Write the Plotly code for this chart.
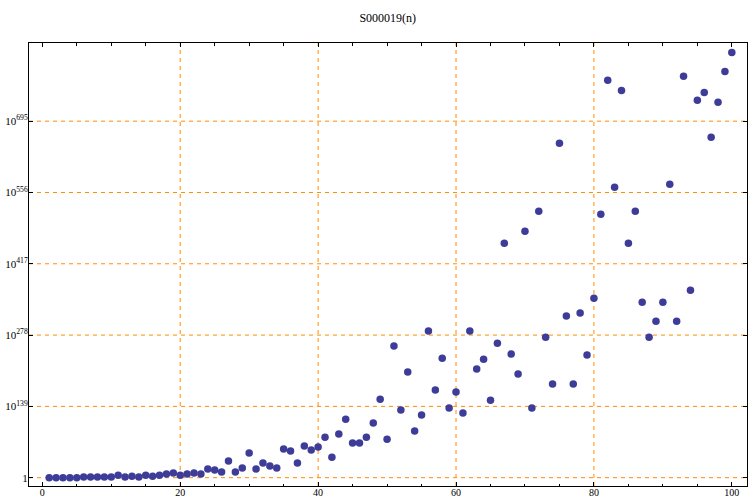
import plotly.graph_objects as go

# n values and log10 of S000019(n)
n_values = list(range(1, 101))
log10_values = [
    0, 0, 0, 0, 0, 1.3, 1.3, 1.3, 1.3, 1.3,
    5, 1.3, 3, 1.3, 5, 3, 5, 7, 9, 5,
    7, 9, 7, 17, 15, 11, 32.5, 11, 19, 48,
    17, 28.6, 23, 19, 56, 52, 28.6, 62, 54, 60,
    79, 40, 85, 114, 67.6, 67.6, 79, 106.6, 153, 75,
    256.5, 132, 206, 91, 122, 286, 171, 233, 136, 167,
    126, 286, 212, 231, 151, 262, 457, 241, 202, 480.6,
    136, 519.5, 274, 182.5, 652, 315, 182.5, 321, 239, 350,
    513.7, 774.7, 566, 755, 457, 519.5, 342, 274, 305, 342,
    572, 305, 782.5, 365.6, 735.8, 751, 663.7, 731.9, 792, 829,
]

x_tick_vals = [0, 20, 40, 60, 80, 100]
x_grid_vals = [20, 40, 60, 80]
y_tick_vals = [0, 139, 278, 417, 556, 695]
y_tick_text = ["1", "10<sup>139</sup>", "10<sup>278</sup>", "10<sup>417</sup>",
               "10<sup>556</sup>", "10<sup>695</sup>"]

grid_color = "rgb(255,140,0)"
font_family = "Liberation Serif"

fig = go.Figure()
fig.add_trace(go.Scatter(
    x=n_values, y=log10_values, mode="markers",
    marker=dict(color="#3d3d99", size=7.5, line=dict(width=0)),
    hoverinfo="x+y",
))

shapes = []
for gx in x_grid_vals:
    shapes.append(dict(type="line", xref="x", yref="paper", x0=gx, x1=gx, y0=0, y1=1,
                       line=dict(color=grid_color, width=1, dash="4px,4px"), layer="below"))
for gy in y_tick_vals:
    shapes.append(dict(type="line", xref="paper", yref="y", x0=0, x1=1, y0=gy, y1=gy,
                       line=dict(color=grid_color, width=1, dash="4px,4px"), layer="below"))

fig.update_layout(
    width=750, height=501,
    margin=dict(l=29, r=3, t=43, b=15),
    paper_bgcolor="white", plot_bgcolor="white",
    showlegend=False,
    font=dict(family=font_family, size=11, color="black"),
    title=dict(text="S000019(n)", x=0.517, xanchor="center", y=0.965, yanchor="middle",
               font=dict(family=font_family, size=12, color="black")),
    shapes=shapes,
    xaxis=dict(
        range=[-1.93, 102.2], tickvals=x_tick_vals, ticks="inside", ticklen=4,
        tickcolor="black", showgrid=False, zeroline=False, automargin=False,
        showline=True, linecolor="black", linewidth=1, mirror="allticks",
        minor=dict(dtick=5, tick0=0, ticks="inside", ticklen=2.5, tickcolor="black", showgrid=False),
        tickfont=dict(family=font_family, size=10),
        ticklabelstandoff=-3,
    ),
    yaxis=dict(
        range=[-16.2, 847.4], tickvals=y_tick_vals, ticktext=y_tick_text,
        ticks="inside", ticklen=4, tickcolor="black", showgrid=False, zeroline=False,
        automargin=False,
        showline=True, linecolor="black", linewidth=1, mirror="allticks",
        tickfont=dict(family=font_family, size=11),
        ticklabelstandoff=-2,
    ),
)

fig.write_html("out.html", config={"displayModeBar": False},
               post_script="document.body.style.margin='0px';")
